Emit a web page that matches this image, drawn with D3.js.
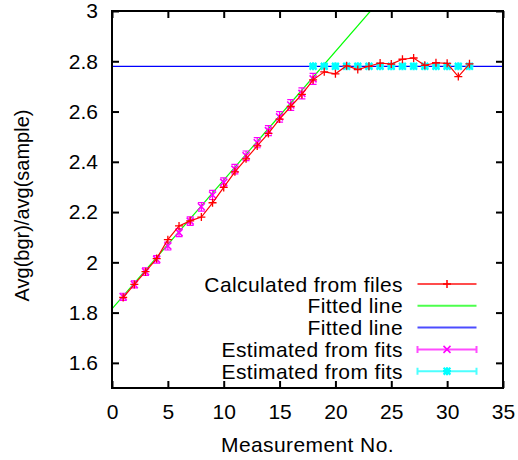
<!DOCTYPE html>
<html>
<head>
<meta charset="utf-8">
<script src="https://cdn.jsdelivr.net/npm/d3@7"></script>
<style>
  body { margin: 0; background: #fff; }
  text { font-family: "Liberation Sans", Arial, Helvetica, sans-serif; }
</style>
</head>
<body>
<div id="chart"></div>
<script>
// data
const calcX = [1, 2, 3, 4, 5, 6, 7, 8, 9, 10, 11, 12, 13, 14, 15, 16, 17, 18, 19, 20, 21, 22, 23, 24, 25, 26, 27, 28, 29, 30, 31, 32];
const calcY = [1.86, 1.912, 1.963, 2.015, 2.09, 2.145, 2.165, 2.18, 2.237, 2.298, 2.36, 2.412, 2.463, 2.513, 2.57, 2.62, 2.668, 2.726,
    2.758, 2.75, 2.782, 2.767, 2.78, 2.793, 2.789, 2.808, 2.813, 2.784, 2.794, 2.792, 2.739, 2.79];

const estX = [1, 2, 3, 4, 5, 6, 7, 8, 9, 10, 11, 12, 13, 14, 15, 16, 17, 18];
const estY = [1.863, 1.912, 1.963, 2.012, 2.065, 2.118, 2.164, 2.221, 2.268, 2.318, 2.371, 2.424, 2.476, 2.524, 2.579, 2.626, 2.672, 2.73];
const estErr = [0.014, 0.014, 0.015, 0.015, 0.016, 0.016, 0.017, 0.017, 0.018, 0.018, 0.019, 0.019, 0.02, 0.02, 0.021, 0.021, 0.022, 0.022];

const est2X = [18, 19, 20, 21, 22, 23, 24, 25, 26, 27, 28, 29, 30, 31, 32];
const est2Y = [2.78, 2.78, 2.78, 2.78, 2.78, 2.78, 2.78, 2.78, 2.78, 2.78, 2.78, 2.78, 2.78, 2.78, 2.78];
const est2Err = [0.008, 0.008, 0.008, 0.008, 0.008, 0.008, 0.008, 0.008, 0.008, 0.008, 0.008, 0.008, 0.008, 0.008, 0.008];

// fitted lines, given by their end points
const fit1X = [0, 35];
const fit1Y = [1.815, 3.607];
const fit2X = [0, 35];
const fit2Y = [2.78, 2.78];

const xTicks = [0, 5, 10, 15, 20, 25, 30, 35];
const yTicks = [1.6, 1.8, 2, 2.2, 2.4, 2.6, 2.8, 3];

const legendLabels = ["Calculated from files", "Fitted line", "Fitted line", "Estimated from fits", "Estimated from fits"];

// set the dimensions and margins of the graph
const margin = { top: 11, right: 15, bottom: 72, left: 112 },
    width = 518 - margin.left - margin.right,
    height = 460 - margin.top - margin.bottom;

const svg = d3.select("#chart")
    .append("svg")
    .attr("width", width + margin.left + margin.right)
    .attr("height", height + margin.top + margin.bottom)
    .append("g")
    .attr("transform", `translate(${margin.left},${margin.top})`);

const x = d3.scaleLinear().domain([0, 35]).range([0, width]);
const y = d3.scaleLinear().domain([1.5, 3]).range([height, 0]);

const fontSize = "21px";

// clip the lines to the plot box
svg.append("clipPath").attr("id", "clip")
    .append("rect").attr("width", width).attr("height", height);

const plot = svg.append("g").attr("clip-path", "url(#clip)");

const line = d3.line().x(d => x(d[0])).y(d => y(d[1]));

// fitted lines
plot.append("path")
    .datum(d3.zip(fit2X, fit2Y))
    .attr("d", line)
    .attr("fill", "none")
    .attr("stroke", "#0000ff")
    .attr("stroke-width", 1.2);

plot.append("path")
    .datum(d3.zip(fit1X, fit1Y))
    .attr("d", line)
    .attr("fill", "none")
    .attr("stroke", "#00ff00")
    .attr("stroke-width", 1.2);

// marker shapes
const plusPath = s => `M${-s},0H${s}M0,${-s}V${s}`;
const crossPath = s => `M${-s},${-s}L${s},${s}M${-s},${s}L${s},${-s}`;
const starPath = s => plusPath(s) + crossPath(s * 0.85);

// error bar series
function errorSeries(xs, ys, es, color, marker, markerWidth) {
    const g = plot.append("g");
    const data = xs.map((d, i) => ({ x: d, y: ys[i], e: es[i] }));
    g.selectAll("path.bar")
        .data(data)
        .join("path")
        .attr("class", "bar")
        .attr("d", d => {
            const cx = x(d.x), y0 = y(d.y - d.e), y1 = y(d.y + d.e);
            return `M${cx},${y0}V${y1}M${cx - 3.5},${y0}H${cx + 3.5}M${cx - 3.5},${y1}H${cx + 3.5}`;
        })
        .attr("fill", "none")
        .attr("stroke", color)
        .attr("stroke-width", 1.2);
    g.selectAll("path.pt")
        .data(data)
        .join("path")
        .attr("class", "pt")
        .attr("transform", d => `translate(${x(d.x)},${y(d.y)})`)
        .attr("d", marker)
        .attr("fill", "none")
        .attr("stroke", color)
        .attr("stroke-width", markerWidth);
}

errorSeries(estX, estY, estErr, "#ff00ff", crossPath(3.5), 1.6);
errorSeries(est2X, est2Y, est2Err, "#00ffff", starPath(4), 2.2);

// calculated points, drawn on top
plot.append("path")
    .datum(d3.zip(calcX, calcY))
    .attr("d", line)
    .attr("fill", "none")
    .attr("stroke", "#ff0000")
    .attr("stroke-width", 1.2);

plot.append("g")
    .selectAll("path")
    .data(d3.zip(calcX, calcY))
    .join("path")
    .attr("transform", d => `translate(${x(d[0])},${y(d[1])})`)
    .attr("d", plusPath(4))
    .attr("stroke", "#ff0000")
    .attr("stroke-width", 1.3);

// axes, ticks point inwards on all four sides
svg.append("g")
    .attr("transform", `translate(0,${height})`)
    .call(d3.axisBottom(x).tickValues(xTicks).tickSize(-7).tickPadding(16));
svg.append("g")
    .call(d3.axisTop(x).tickValues(xTicks).tickSize(-7).tickFormat(""));
svg.append("g")
    .call(d3.axisLeft(y).tickValues(yTicks).tickSize(-7).tickPadding(14)
        .tickFormat(d => String(+d.toFixed(1))));
svg.append("g")
    .attr("transform", `translate(${width},0)`)
    .call(d3.axisRight(y).tickValues(yTicks).tickSize(-7).tickFormat(""));

svg.selectAll(".domain").remove();
svg.selectAll(".tick line").attr("stroke", "black").attr("stroke-width", 2);
svg.selectAll(".tick text")
    .attr("fill", "black")
    .style("font-size", fontSize);

// border
svg.append("rect")
    .attr("width", width)
    .attr("height", height)
    .attr("fill", "none")
    .attr("stroke", "black")
    .attr("stroke-width", 2);

// axis labels
svg.append("text")
    .attr("x", width / 2)
    .attr("y", height + 64)
    .attr("text-anchor", "middle")
    .style("font-size", fontSize)
    .style("letter-spacing", "0.4px")
    .text("Measurement No.");

svg.append("text")
    .attr("transform", `translate(${29 - margin.left},${(height / 2) + 6}) rotate(-90)`)
    .attr("text-anchor", "middle")
    .style("font-size", "20px")
    .text("Avg(bgr)/avg(sample)");

// legend
const legendColors = ["#ff0000", "#00ff00", "#0000ff", "#ff00ff", "#00ffff"];
const legendMarks = [plusPath(4), null, null, crossPath(3.5), starPath(4)];
const legendBars = [false, false, false, true, true];

const legend = svg.append("g")
    .attr("transform", `translate(${291},${273})`)
    .selectAll("g")
    .data(legendLabels)
    .join("g")
    .attr("transform", (d, i) => `translate(0,${i * 21.8})`);

legend.append("text")
    .attr("x", 0)
    .attr("dy", "0.36em")
    .attr("text-anchor", "end")
    .style("font-size", fontSize)
    .style("letter-spacing", "0.4px")
    .text(d => d);

legend.append("path")
    .attr("d", (d, i) => "M14.5,0H73.5" + (legendBars[i] ? "M14.5,-3.5V3.5M73.5,-3.5V3.5" : ""))
    .attr("fill", "none")
    .attr("stroke", (d, i) => legendColors[i])
    .attr("stroke-opacity", 0.7)
    .attr("stroke-width", 2);

legend.append("path")
    .attr("transform", "translate(44,0)")
    .attr("d", (d, i) => legendMarks[i] || "")
    .attr("fill", "none")
    .attr("stroke", (d, i) => legendColors[i])
    .attr("stroke-width", (d, i) => i === 4 ? 2.2 : 1.5);
</script>
</body>
</html>
